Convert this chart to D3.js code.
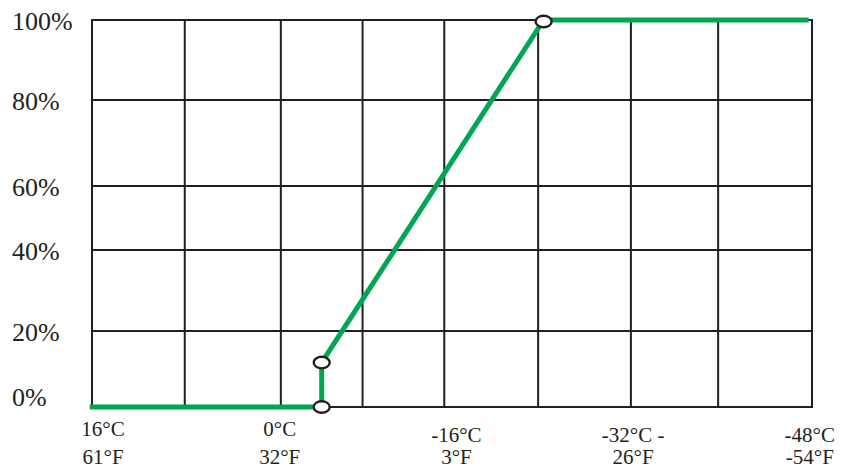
<!DOCTYPE html>
<html><head><meta charset="utf-8">
<script src="https://cdn.jsdelivr.net/npm/d3@7"></script>
<style>html,body{margin:0;padding:0;background:#fff;} svg{display:block;}</style>
</head><body>
<svg id="chart" width="848" height="469"></svg>
<script>
// ---- data ----
const yTicks = [0, 20, 40, 60, 80, 100];
const yTickLabels = ["0%", "20%", "40%", "60%", "80%", "100%"];
const xGridTemps = [17, 8.6, -0.1, -7.5, -14.9, -23.4, -31.8, -39.7, -48.2];
const xLabelTemps = [16, 0, -16, -32, -48];
const xLabelsC = ["16°C", "0°C", "-16°C", "-32°C -", "-48°C"];
const xLabelsF = ["61°F", "32°F", "3°F", "26°F", "-54°F"];
const curveTemps = [17.2, -3.8, -3.8, -23.9, -47.9];
const curvePct = [0, 0, 11.7, 100, 100];
const markerTemps = [-3.8, -3.8, -23.9];
const markerPct = [0, 11.7, 100];

// ---- layout ----
const svg = d3.select("#chart");
const x = d3.scaleLinear().domain([17, -48.2]).range([92, 812]);
const y = d3.scaleLinear().domain(yTicks).range([407, 331, 250, 186, 100, 20]);
const ink = "#231f20";
const green = "#00a651";
const font = "'Liberation Serif','Times New Roman',serif";

// grid
const grid = svg.append("g");
grid.selectAll("line.h").data(yTicks).join("line")
  .attr("x1", x(17) - 1).attr("x2", x(-48.2) + 1)
  .attr("y1", d => y(d)).attr("y2", d => y(d))
  .attr("stroke", ink).attr("stroke-width", 2);
grid.selectAll("line.v").data(xGridTemps).join("line")
  .attr("x1", d => x(d)).attr("x2", d => x(d))
  .attr("y1", y(100) - 1).attr("y2", y(0) + 1)
  .attr("stroke", ink).attr("stroke-width", 2);

// y labels
svg.append("g").selectAll("text").data(yTicks).join("text")
  .attr("x", 12)
  .attr("y", d => y(d) + (d === 0 ? -1 : 10))
  .attr("font-family", font).attr("font-size", 26).attr("fill", ink)
  .text((d, i) => yTickLabels[i]);

// x labels
const xl = svg.append("g").attr("font-family", font).attr("font-size", 21)
  .attr("fill", ink).attr("text-anchor", "middle");
xl.selectAll("text.c").data(xLabelTemps).join("text")
  .attr("x", d => x(d)).attr("y", (d, i) => i < 2 ? 436 : 442)
  .text((d, i) => xLabelsC[i]);
xl.selectAll("text.f").data(xLabelTemps).join("text").attr("class", "f")
  .attr("x", d => x(d)).attr("y", 464)
  .text((d, i) => xLabelsF[i]);

// curve
const pts = curveTemps.map((t, i) => [t, curvePct[i]]);
svg.append("path")
  .attr("d", d3.line().x(d => x(d[0])).y(d => y(d[1]))(pts))
  .attr("fill", "none").attr("stroke", green).attr("stroke-width", 5)
  .attr("stroke-linejoin", "miter");

// markers
const mk = markerTemps.map((t, i) => [t, markerPct[i]]);
svg.append("g").selectAll("ellipse").data(mk).join("ellipse")
  .attr("cx", d => x(d[0])).attr("cy", d => y(d[1]) + (d[1] === 100 ? 1.5 : 0))
  .attr("rx", 8).attr("ry", 5.8)
  .attr("fill", "#fff").attr("stroke", ink).attr("stroke-width", 2.4);
</script>
</body></html>
